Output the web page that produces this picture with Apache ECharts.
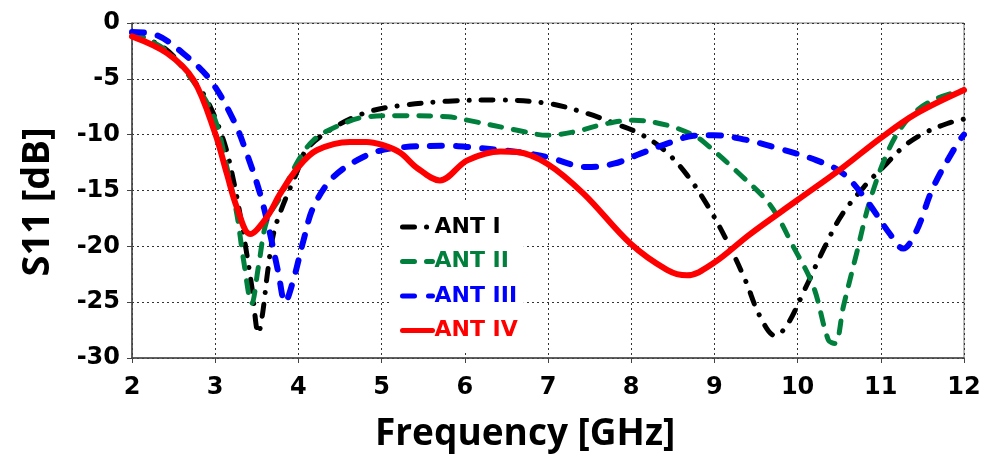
<!DOCTYPE html>
<html>
<head>
<meta charset="utf-8">
<script src="https://cdn.jsdelivr.net/npm/echarts@6/dist/echarts.min.js"></script>
<style>
  html, body { margin: 0; padding: 0; background: #fff; }
  #chart { width: 992px; height: 457px; }
</style>
</head>
<body>
<div id="chart"></div>
<script>
// Frequency axis (GHz) and S11 axis (dB) ticks
const freqTicks = [2, 3, 4, 5, 6, 7, 8, 9, 10, 11, 12];
const s11Ticks = [0, -5, -10, -15, -20, -25, -30];

// Measured reflection coefficient, [frequency GHz, S11 dB]
const antI = [
  [2.0, -0.9], [2.4, -2.3], [2.7, -4.8], [2.9, -6.9], [3.1, -10.5], [3.22, -14.1],
  [3.34, -18.9], [3.44, -23.6], [3.52, -27.8], [3.57, -26.0], [3.63, -22.3],
  [3.7, -18.9], [3.8, -16.6], [3.98, -13.4], [4.1, -11.3], [4.42, -9.4],
  [4.82, -8.0], [5.22, -7.4], [5.8, -7.0], [6.4, -6.9], [7.0, -7.2], [7.47, -8.1],
  [7.8, -9.0], [8.1, -9.9], [8.4, -11.4], [8.67, -13.6], [8.93, -16.5],
  [9.17, -19.8], [9.37, -23.0], [9.55, -26.3], [9.73, -28.0], [9.87, -27.1],
  [10.09, -23.8], [10.31, -20.3], [10.53, -17.2], [10.83, -14.4], [11.03, -12.9],
  [11.27, -11.1], [11.51, -9.9], [11.8, -9.0], [12.0, -8.6]
];
const antII = [
  [2.0, -0.9], [2.4, -2.4], [2.78, -5.7], [3.0, -8.7], [3.14, -12.9], [3.26, -17.1],
  [3.34, -21.2], [3.44, -25.1], [3.52, -21.8], [3.62, -17.7], [3.78, -15.6],
  [4.0, -12.3], [4.18, -10.5], [4.42, -9.4], [4.82, -8.4], [5.22, -8.3],
  [5.8, -8.4], [6.03, -8.7], [6.63, -9.6], [6.99, -10.05], [7.31, -9.75],
  [7.71, -9.0], [8.03, -8.7], [8.43, -9.15], [8.75, -10.05], [8.87, -10.65],
  [9.27, -13.3], [9.67, -16.3], [9.95, -20.05], [10.19, -23.6], [10.37, -28.4],
  [10.45, -28.7], [10.55, -25.4], [10.71, -20.6], [10.87, -15.9], [11.11, -11.1],
  [11.35, -8.4], [11.63, -6.9], [12.0, -6.0]
];
const antIII = [
  [2.0, -0.8], [2.3, -1.1], [2.62, -2.75], [2.94, -5.1], [3.22, -8.7], [3.38, -11.7],
  [3.54, -15.3], [3.66, -18.9], [3.76, -22.4], [3.84, -25.0], [3.94, -23.0],
  [4.06, -19.5], [4.18, -16.5], [4.42, -13.8], [4.78, -12.0], [5.1, -11.25],
  [5.8, -11.0], [6.03, -11.1], [6.63, -11.55], [6.99, -12.0], [7.47, -12.9],
  [7.79, -12.6], [8.11, -11.7], [8.43, -10.8], [8.75, -10.1], [8.99, -10.05],
  [9.31, -10.35], [9.71, -11.1], [10.23, -12.3], [10.55, -13.5], [10.83, -15.9],
  [11.11, -18.9], [11.27, -20.2], [11.43, -18.6], [11.63, -14.7], [11.92, -10.8],
  [12.0, -10.0]
];
const antIV = [
  [2.0, -1.2], [2.42, -2.7], [2.74, -5.1], [3.0, -9.9], [3.14, -13.5], [3.26, -16.5],
  [3.42, -18.9], [3.62, -17.4], [3.78, -15.3], [4.0, -12.9], [4.22, -11.4],
  [4.62, -10.65], [4.82, -10.65], [5.0, -10.9], [5.22, -11.6], [5.43, -13.0],
  [5.7, -14.1], [6.03, -12.3], [6.43, -11.5], [6.63, -11.55], [6.99, -12.6],
  [7.43, -15.3], [7.99, -19.75], [8.43, -22.1], [8.67, -22.6], [8.99, -21.5],
  [9.43, -18.9], [9.99, -15.9], [10.55, -12.9], [10.99, -10.35], [11.43, -8.1],
  [12.0, -6.0]
];

const seriesNames = ['ANT I', 'ANT II', 'ANT III', 'ANT IV'];
const seriesColors = ['#000000', '#00803c', '#0000ff', '#ff0000'];

const tickFont = 'DejaVu Sans';
const chart = echarts.init(document.getElementById('chart'), null, { renderer: 'canvas' });

function lineSeries(name, data, color, width, dash) {
  return {
    name: name,
    type: 'line',
    data: data,
    smooth: 0.35,
    symbol: 'none',
    showSymbol: false,
    z: 3,
    lineStyle: { color: color, width: width, type: dash, cap: 'round', join: 'round' },
    itemStyle: { color: color }
  };
}

chart.setOption({
  animation: false,
  backgroundColor: '#ffffff',
  grid: {
    left: 132, right: 28, top: 23, bottom: 99,
    show: true, borderColor: '#777', borderWidth: 1
  },
  xAxis: {
    type: 'value',
    min: freqTicks[0], max: freqTicks[freqTicks.length - 1], interval: 1,
    axisLine: { show: true, onZero: false, lineStyle: { color: '#444', width: 1.5 } },
    axisTick: { show: true, length: 5, lineStyle: { color: '#444' } },
    axisLabel: {
      margin: 18, color: '#000', fontFamily: tickFont, fontWeight: 'bold', fontSize: 24
    },
    splitLine: { show: true, lineStyle: { color: '#333', type: [2, 3], width: 1 } }
  },
  yAxis: {
    type: 'value',
    min: s11Ticks[s11Ticks.length - 1], max: s11Ticks[0], interval: 5,
    axisLine: { show: true, onZero: false, lineStyle: { color: '#444', width: 1.5 } },
    axisTick: { show: true, length: 5, lineStyle: { color: '#444' } },
    axisLabel: {
      margin: 12, color: '#000', fontFamily: tickFont, fontWeight: 'bold', fontSize: 24
    },
    splitLine: { show: true, lineStyle: { color: '#333', type: [2, 3], width: 1 } }
  },
  legend: {
    orient: 'vertical',
    left: 390, top: 203,
    width: 137,
    backgroundColor: '#ffffff',
    padding: [13, 6, 9, 10],
    itemWidth: 30, itemHeight: 14, itemGap: 12.5,
    z: 5,
    itemStyle: { opacity: 0 },
    lineStyle: { width: 5, cap: 'round' },
    data: seriesNames.map(function (n, i) {
      return { name: n, textStyle: { color: seriesColors[i] } };
    }),
    textStyle: { fontFamily: tickFont, fontWeight: 'bold', fontSize: 22, padding: [0, 0, 0, -3] }
  },
  graphic: [
    {
      type: 'text', left: 375, top: 416,
      style: {
        text: 'Frequency [GHz]',
        font: 'bold 37px "Open Sans"', fill: '#000'
      }
    },
    {
      type: 'text',
      x: 38, y: 202, rotation: Math.PI / 2,
      style: {
        text: 'S11 [dB]',
        font: 'bold 38px "Open Sans"', fill: '#000',
        align: 'center', verticalAlign: 'middle'
      }
    }
  ],
  series: [
    lineSeries(seriesNames[0], antI, seriesColors[0], 5, [12, 12, 0.1, 12]),
    lineSeries(seriesNames[1], antII, seriesColors[1], 5, [12, 12]),
    lineSeries(seriesNames[2], antIII, seriesColors[2], 6, [12, 14]),
    lineSeries(seriesNames[3], antIV, seriesColors[3], 6, 'solid')
  ]
});
</script>
</body>
</html>
